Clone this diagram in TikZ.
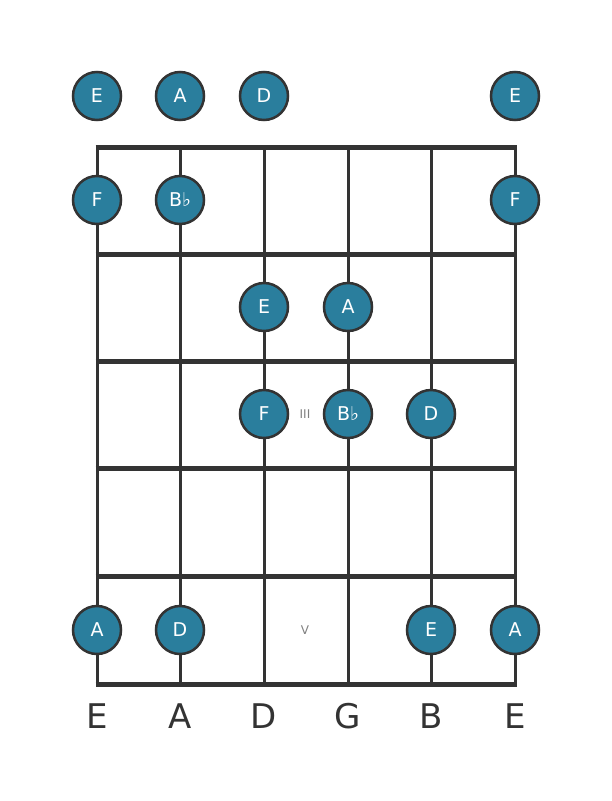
\documentclass[tikz,border=0pt]{standalone}
\usepackage{fontspec}
\setmainfont{DejaVu Sans}
\usetikzlibrary{positioning}
\definecolor{notefill}{HTML}{2A7E9D}
\definecolor{ink}{HTML}{333333}

\begin{document}
\begin{tikzpicture}[x=1pt,y=-1pt,
  note/.style = {draw=ink, line width=2.5pt, circle, fill=notefill, minimum size=48pt, inner sep=0pt, text=white, font=\fontsize{19}{19}\selectfont},
  fretline/.style = {draw=ink, line width=5pt},
  strline/.style = {draw=ink, line width=3pt},
  fretmark/.style = {text=gray, font=\fontsize{12}{12}\selectfont},
  tuning/.style = {text=ink, font=\fontsize{34}{34}\selectfont}]
  \useasboundingbox (0,0) rectangle (611,801);
  % strings and frets
  \foreach \x in {97,180,264,348,431,515}
    \draw[strline] (\x,147) -- (\x,684);
  \foreach \y in {147,254,361,468,576,684}
    \draw[fretline] (95.5,\y) -- (516.5,\y);
  % fret markers
  \node[fretmark] (m3) at (305,414) {III};
  \node[fretmark] (m5) at (305,630) {V};
  % open strings
  \node[note] (o1) at (97,96) {E};
  \node[note] (o2) at (180,96) {A};
  \node[note] (o3) at (264,96) {D};
  \node[note] (o6) at (515,96) {E};
  % fret 1
  \node[note] (f1s1) at (97,200) {F};
  \node[note] (f1s2) at (180,200) {B♭};
  \node[note] (f1s6) at (515,200) {F};
  % fret 2
  \node[note] (f2s3) at (264,307) {E};
  \node[note] (f2s4) at (348,307) {A};
  % fret 3
  \node[note] (f3s3) at (264,414) {F};
  \node[note] (f3s4) at (348,414) {B♭};
  \node[note] (f3s5) at (431,414) {D};
  % fret 5
  \node[note] (f5s1) at (97,630) {A};
  \node[note] (f5s2) at (180,630) {D};
  \node[note] (f5s5) at (431,630) {E};
  \node[note] (f5s6) at (515,630) {A};
  % tuning
  \node[tuning] (t1) at (97,716) {E};
  \node[tuning] (t2) at (180,716) {A};
  \node[tuning] (t3) at (264,716) {D};
  \node[tuning] (t4) at (348,716) {G};
  \node[tuning] (t5) at (431,716) {B};
  \node[tuning] (t6) at (515,716) {E};
\end{tikzpicture}
\end{document}
